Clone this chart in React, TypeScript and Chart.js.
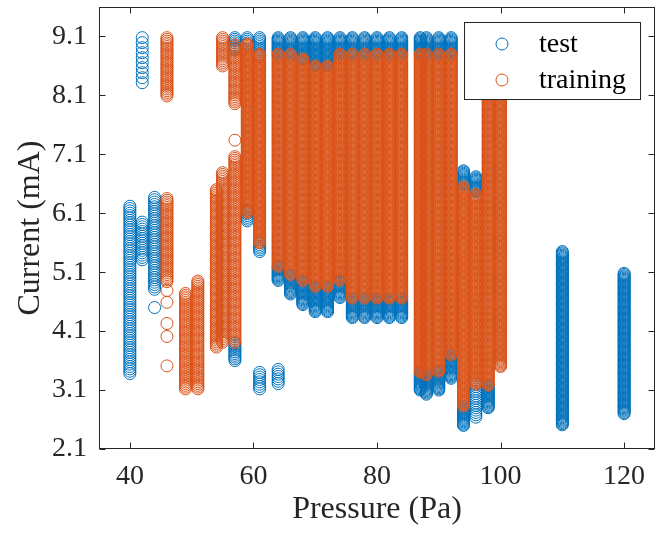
import React, { useEffect, useRef } from 'react';
import { Chart, registerables } from 'chart.js';

Chart.register(...registerables);

const TEST_COLOR = '#0072BD';
const TRAIN_COLOR = '#D95319';
const AXIS_COLOR = '#262626';
const FONT = '"Liberation Serif", "Times New Roman", serif';

const xTicks = [40, 60, 80, 100, 120];
const yTicks = [2.1, 3.1, 4.1, 5.1, 6.1, 7.1, 8.1, 9.1];

// Each reading run: pressure (Pa), lowest current, highest current, current step (mA)
const testRunPressure = [40, 42, 42, 44, 57, 57, 59, 59, 61, 61, 61, 64, 64, 64, 66, 66, 68, 68, 70, 70, 72, 72, 74, 74, 76, 76, 78, 78, 80, 80, 82, 82, 84, 84, 87, 87, 88, 88, 90, 90, 92, 92, 94, 94, 96, 96, 98, 110, 120];
const testRunLow = [3.35, 8.31, 5.3, 4.78, 8.85, 3.6, 8.95, 5.97, 8.78, 5.45, 3.12, 8.8, 4.95, 3.2, 8.8, 4.72, 8.72, 4.55, 8.6, 4.42, 8.6, 4.42, 8.8, 4.67, 8.8, 4.33, 8.8, 4.33, 8.8, 4.33, 8.8, 4.33, 8.8, 4.33, 8.8, 3.1, 8.8, 3.02, 8.8, 3.1, 8.8, 3.3, 6.58, 2.5, 6.45, 2.62, 2.8, 2.5, 2.7];
const testRunHigh = [6.22, 9.08, 5.95, 6.37, 9.08, 3.9, 9.08, 6.15, 9.08, 5.6, 3.4, 9.08, 5.2, 3.45, 9.08, 5.05, 9.08, 4.95, 9.08, 4.85, 9.08, 4.85, 9.08, 4.95, 9.08, 4.65, 9.08, 4.65, 9.08, 4.65, 9.08, 4.65, 9.08, 4.65, 9.08, 3.4, 9.08, 3.35, 9.08, 3.42, 9.08, 3.7, 6.82, 2.82, 6.72, 3.2, 3.18, 5.45, 5.08];
const testRunStep = [0.04, 0.085, 0.04, 0.04, 0.03, 0.03, 0.03, 0.03, 0.03, 0.03, 0.04, 0.02, 0.02, 0.04, 0.02, 0.02, 0.02, 0.02, 0.02, 0.02, 0.02, 0.02, 0.02, 0.02, 0.02, 0.02, 0.02, 0.02, 0.02, 0.02, 0.02, 0.02, 0.02, 0.02, 0.02, 0.02, 0.02, 0.02, 0.02, 0.02, 0.02, 0.02, 0.02, 0.02, 0.02, 0.04, 0.02, 0.02, 0.02];
const testSinglePressure = [44];
const testSingleCurrent = [4.5];

const trainRunPressure = [46, 46, 49, 51, 54, 55, 55, 57, 57, 59, 61, 64, 66, 68, 70, 72, 74, 76, 78, 80, 82, 84, 87, 88, 90, 92, 94, 96, 98, 100];
const trainRunLow = [8.08, 4.93, 3.1, 3.1, 3.83, 8.6, 3.9, 7.96, 3.9, 6.1, 5.6, 5.2, 5.05, 4.95, 4.85, 4.85, 4.95, 4.65, 4.65, 4.65, 4.65, 4.65, 3.4, 3.35, 3.42, 3.7, 2.82, 3.2, 3.18, 3.5];
const trainRunHigh = [9.08, 6.35, 4.74, 4.95, 6.5, 9.08, 6.79, 8.95, 7.06, 8.97, 8.8, 8.8, 8.8, 8.72, 8.6, 8.6, 8.8, 8.8, 8.8, 8.8, 8.8, 8.8, 8.8, 8.8, 8.8, 8.8, 6.55, 6.42, 9.0, 9.0];
const trainRunStep = [0.03, 0.03, 0.03, 0.03, 0.03, 0.03, 0.03, 0.03, 0.03, 0.02, 0.02, 0.02, 0.02, 0.02, 0.02, 0.02, 0.02, 0.02, 0.02, 0.02, 0.02, 0.02, 0.02, 0.02, 0.02, 0.02, 0.02, 0.02, 0.02, 0.02];
const trainSinglePressure = [46, 46, 46, 46, 46, 57];
const trainSingleCurrent = [4.79, 4.59, 4.23, 4.01, 3.51, 7.34];

function expandRuns(p: number[], lo: number[], hi: number[], step: number[], sp: number[], sc: number[]) {
  const pts: { x: number; y: number }[] = [];
  for (let i = 0; i < p.length; i++) {
    for (let k = 0; ; k++) {
      const v = hi[i] - k * step[i];
      if (v < lo[i] - 1e-9) break;
      pts.push({ x: p[i], y: Math.round(v * 1000) / 1000 });
    }
  }
  for (let j = 0; j < sp.length; j++) pts.push({ x: sp[j], y: sc[j] });
  return pts;
}

const boxPlugin = {
  id: 'matlabBox',
  afterDatasetsDraw(chart: any) {
    const { ctx, chartArea: a, scales } = chart;
    ctx.save();
    ctx.strokeStyle = AXIS_COLOR;
    ctx.lineWidth = 1;
    const L = Math.round(a.left) + 0.5;
    const R = Math.round(a.right) - 0.5;
    const T = Math.round(a.top) + 0.5;
    const B = Math.round(a.bottom) - 0.5;
    ctx.strokeRect(L, T, R - L, B - T);
    ctx.beginPath();
    scales.x.ticks.forEach((t: any) => {
      const px = Math.round(scales.x.getPixelForValue(t.value)) + 0.5;
      ctx.moveTo(px, B); ctx.lineTo(px, B - 6);
      ctx.moveTo(px, T); ctx.lineTo(px, T + 6);
    });
    scales.y.ticks.forEach((t: any) => {
      const py = Math.round(scales.y.getPixelForValue(t.value)) + 0.5;
      ctx.moveTo(L, py); ctx.lineTo(L + 6, py);
      ctx.moveTo(R, py); ctx.lineTo(R - 6, py);
    });
    ctx.stroke();

    // legend box inside the axes (top right)
    const w = 176, h = 77;
    const bx = Math.round(a.right) - 15 - w;
    const by = Math.round(a.top) + 15;
    ctx.fillStyle = '#ffffff';
    ctx.fillRect(bx, by, w, h);
    ctx.strokeStyle = AXIS_COLOR;
    ctx.strokeRect(bx + 0.5, by + 0.5, w, h);
    chart.data.datasets.forEach((ds: any, i: number) => {
      const cy = by + 22 + i * 36;
      ctx.beginPath();
      ctx.arc(bx + 38, cy, 6, 0, Math.PI * 2);
      ctx.strokeStyle = ds.borderColor;
      ctx.lineWidth = 1;
      ctx.stroke();
      ctx.fillStyle = '#000000';
      ctx.font = `28px ${FONT}`;
      ctx.textBaseline = 'middle';
      ctx.textAlign = 'left';
      ctx.fillText(ds.label, bx + 75, cy + 1);
    });
    ctx.restore();
  },
};

export default function App() {
  const ref = useRef<HTMLCanvasElement>(null);
  useEffect(() => {
    if (!ref.current) return;
    const testPts = expandRuns(testRunPressure, testRunLow, testRunHigh, testRunStep, testSinglePressure, testSingleCurrent);
    const trainPts = expandRuns(trainRunPressure, trainRunLow, trainRunHigh, trainRunStep, trainSinglePressure, trainSingleCurrent);
    const chart = new Chart(ref.current, {
      type: 'scatter',
      data: {
        datasets: [
          { label: 'test', data: testPts, borderColor: TEST_COLOR, backgroundColor: 'rgba(0,0,0,0)', pointRadius: 6, pointBorderWidth: 1, order: 1 },
          { label: 'training', data: trainPts, borderColor: TRAIN_COLOR, backgroundColor: 'rgba(0,0,0,0)', pointRadius: 6, pointBorderWidth: 1, order: 0 },
        ],
      },
      options: {
        responsive: false,
        animation: false,
        devicePixelRatio: 1,
        layout: { padding: { left: 0, right: 10, top: 2, bottom: 0 } },
        plugins: { legend: { display: false }, tooltip: { enabled: false } },
        events: [],
        scales: {
          x: {
            type: 'linear',
            min: 35,
            max: 125,
            afterBuildTicks: (s: any) => { s.ticks = xTicks.map((v) => ({ value: v })); },
            afterFit: (s: any) => { s.height = 84; s.paddingLeft = 0; s.paddingRight = 0; },
            grid: { display: false, drawTicks: false },
            border: { display: false },
            ticks: { font: { family: FONT, size: 28 }, color: AXIS_COLOR, padding: 11, maxRotation: 0, autoSkip: false, callback: (v: any) => String(v) },
            title: { display: true, text: 'Pressure (Pa)', font: { family: FONT, size: 32 }, color: AXIS_COLOR, padding: { top: 0, bottom: 4 } },
          },
          y: {
            type: 'linear',
            min: 2.1,
            max: 9.6,
            afterBuildTicks: (s: any) => { s.ticks = yTicks.map((v) => ({ value: v })); },
            afterFit: (s: any) => { s.width = 99; s.paddingTop = 0; s.paddingBottom = 0; },
            grid: { display: false, drawTicks: false },
            border: { display: false },
            ticks: { font: { family: FONT, size: 28 }, color: AXIS_COLOR, padding: 12, autoSkip: false, callback: (v: any) => Number(v).toFixed(1) },
            title: { display: true, text: 'Current (mA)', font: { family: FONT, size: 32 }, color: AXIS_COLOR, padding: { top: 11, bottom: 0 } },
          },
        },
      },
      plugins: [boxPlugin],
    } as any);
    return () => chart.destroy();
  }, []);
  return (
    <div style={{ position: 'absolute', left: 0, top: 0, width: 665, height: 533, background: '#ffffff' }}>
      <canvas ref={ref} width={665} height={533} style={{ display: 'block' }} />
    </div>
  );
}
